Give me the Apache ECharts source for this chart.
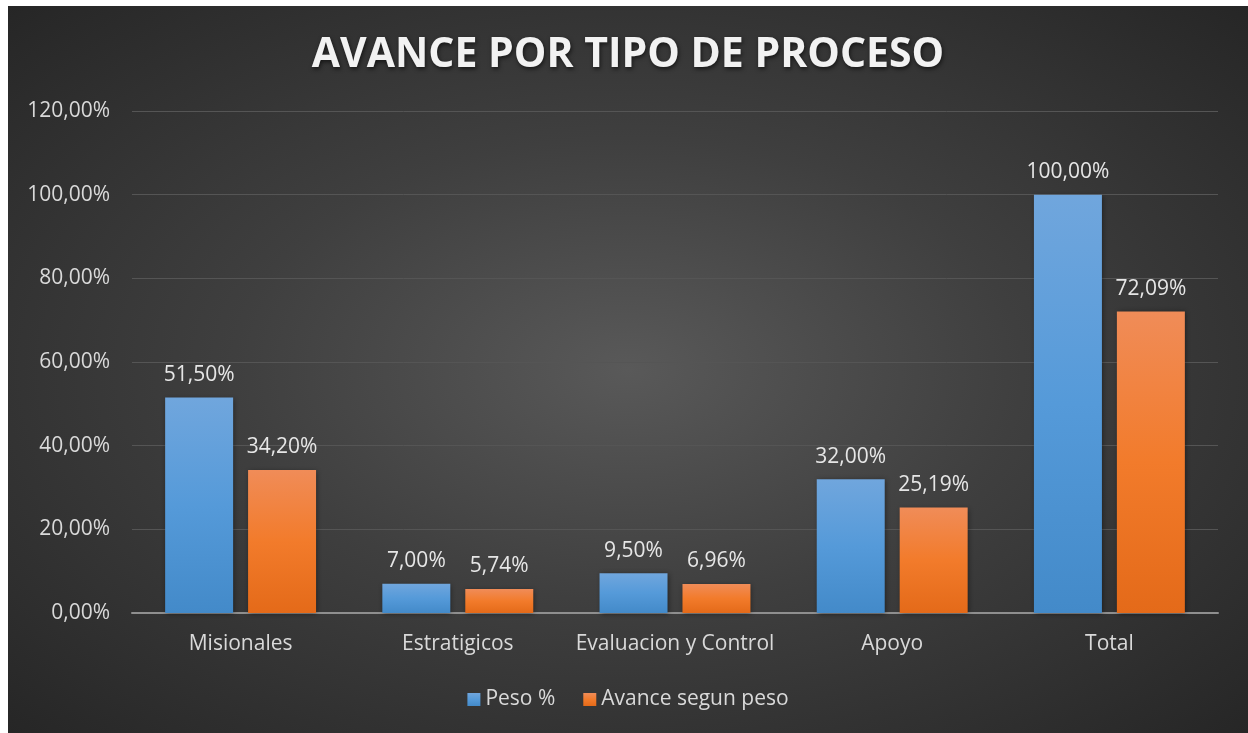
<!DOCTYPE html>
<html lang="es">
<head>
  <meta charset="UTF-8">
  <title>Avance por tipo de proceso</title>
  <style>
    * { margin: 0; padding: 0; box-sizing: border-box; }
    body { background: #ffffff; width: 1248px; height: 733px; overflow: hidden; position: relative; }
    #chart {
      position: absolute;
      left: 8px;
      top: 6px;
      width: 1240px;
      height: 727px;
      background: radial-gradient(ellipse farthest-corner at 50% 50%, #595959 0%, #3f3f3f 45%, #262626 100%);
    }
  </style>
</head>
<body>
  <div id="chart"></div>
  <script src="https://cdn.jsdelivr.net/npm/echarts@6/dist/echarts.min.js"></script>
  <script>
    // datos
    const categorias = ['Misionales', 'Estratigicos', 'Evaluacion y Control', 'Apoyo', 'Total'];
    const pesoPct = [51.50, 7.00, 9.50, 32.00, 100.00];
    const avancePeso = [34.20, 5.74, 6.96, 25.19, 72.09];

    const fmt = v => v.toFixed(2).replace('.', ',') + '%';
    const font = "'Open Sans', 'DejaVu Sans', sans-serif";

    const chart = echarts.init(document.getElementById('chart'));

    const barLabel = {
      show: true,
      position: 'top',
      distance: 12,
      color: '#e6e6e6',
      fontSize: 21,
      fontFamily: font,
      formatter: p => fmt(p.value)
    };

    chart.setOption({
      backgroundColor: 'transparent',
      title: {
        text: 'AVANCE POR TIPO DE PROCESO',
        left: 'center',
        top: 24,
        textStyle: {
          color: '#f2f2f2',
          fontSize: 41,
          fontWeight: 'bold',
          fontFamily: font,
          textShadowColor: 'rgba(0,0,0,0.6)',
          textShadowBlur: 4,
          textShadowOffsetX: 1,
          textShadowOffsetY: 2
        }
      },
      legend: {
        bottom: 18,
        left: 'center',
        itemWidth: 13,
        itemHeight: 13,
        itemGap: 28,
        icon: 'rect',
        textStyle: { color: '#d9d9d9', fontSize: 21, fontFamily: font }
      },
      grid: { left: 124, right: 30, top: 105, bottom: 120 },
      xAxis: {
        type: 'category',
        data: categorias,
        axisLine: { lineStyle: { color: '#8f8f8f', width: 2 } },
        axisTick: { show: false },
        axisLabel: { color: '#d9d9d9', fontSize: 21, fontFamily: font, margin: 21, interval: 0 }
      },
      yAxis: {
        type: 'value',
        min: 0,
        max: 120,
        interval: 20,
        axisLine: { show: false },
        axisTick: { show: false },
        splitLine: { lineStyle: { color: '#555555', width: 1 } },
        axisLabel: { color: '#d9d9d9', fontSize: 21, fontFamily: font, margin: 22, formatter: fmt }
      },
      series: [
        {
          name: 'Peso %',
          type: 'bar',
          data: pesoPct,
          barWidth: '31.3%',
          barGap: '22%',
          label: barLabel,
          itemStyle: {
            color: new echarts.graphic.LinearGradient(0, 0, 0, 1, [
              { offset: 0, color: '#70a6dd' },
              { offset: 0.5, color: '#559ad9' },
              { offset: 1, color: '#438ac9' }
            ]),
            shadowColor: 'rgba(0,0,0,0.45)',
            shadowBlur: 5,
            shadowOffsetX: 1,
            shadowOffsetY: 1
          }
        },
        {
          name: 'Avance segun peso',
          type: 'bar',
          data: avancePeso,
          barWidth: '31.3%',
          label: barLabel,
          itemStyle: {
            color: new echarts.graphic.LinearGradient(0, 0, 0, 1, [
              { offset: 0, color: '#f08c58' },
              { offset: 0.5, color: '#f27b2b' },
              { offset: 1, color: '#e46a19' }
            ]),
            shadowColor: 'rgba(0,0,0,0.45)',
            shadowBlur: 5,
            shadowOffsetX: 1,
            shadowOffsetY: 1
          }
        }
      ]
    });

    window.addEventListener('resize', () => chart.resize());
  </script>
</body>
</html>
